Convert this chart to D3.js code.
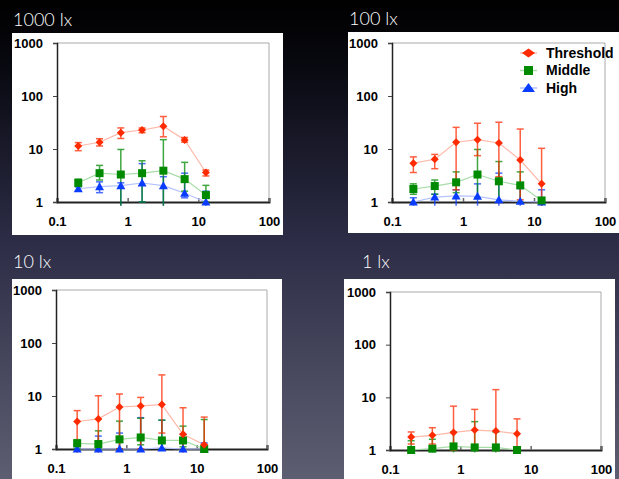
<!DOCTYPE html>
<html><head><meta charset="utf-8">
<script src="https://cdn.jsdelivr.net/npm/d3@7"></script>
<style>
html,body{margin:0;padding:0;background:#000;}
svg{display:block;}
</style></head>
<body>
<script>
// ---- data ----
const xVals = [0.2, 0.4, 0.8, 1.6, 3.2, 6.4, 12.8];
const panelTitles = ["1000 lx", "100 lx", "10 lx", "1 lx"];
const seriesNames = ["Threshold", "Middle", "High"];
const xTickLabels = ["0.1", "1", "10", "100"];
const yTickLabels = ["1", "10", "100", "1000"];

// 1000 lx
const thr1000 = [11.4, 13.4, 20.3, 22.8, 27, 14.8, 3.6];
const thr1000Hi = [13.2, 15.6, 25, 24.9, 41, 16.5, 4.0];
const thr1000Lo = [9.3, 11.4, 15.8, 20.3, 17, 13.5, 3.1];
const mid1000 = [2.3, 3.5, 3.3, 3.5, 3.9, 2.7, 1.35];
const mid1000Hi = [2.7, 4.9, 9.8, 6.0, 15, 5.6, 2.06];
const mid1000Lo = [1.95, 2.6, 0.85, 1.0, 0.85, 1.6, 1.0];
const high1000 = [1.78, 1.95, 2.03, 2.28, 2.03, 1.46, 1.0];
const high1000Hi = [1.95, 2.4, 2.3, 5.3, 3.0, 3.5, 1.6];
const high1000Lo = [1.6, 1.5, 0.85, 1.0, 0.85, 1.2, 0.85];

// 100 lx
const thr100 = [5.4, 6.4, 13.4, 15.0, 13.0, 6.2, 2.2];
const thr100Hi = [7.1, 7.9, 25.6, 30.6, 32, 23.8, 10.3];
const thr100Lo = [3.6, 4.25, 1.7, 7.5, 3.0, 1.1, 0.85];
const mid100 = [1.76, 2.0, 2.35, 3.3, 2.46, 2.06, 1.07];
const mid100Hi = [2.2, 2.6, 3.7, 9.8, 5.8, 3.7, 1.1];
const mid100Lo = [1.4, 1.4, 1.5, 1.2, 1.0, 1.0, 0.85];
const high100 = [1.0, 1.24, 1.3, 1.28, 1.1, 1.03, 1.0];
const high100Hi = [1.2, 1.4, 1.7, 2.2, 3.5, 1.8, 1.7];
const high100Lo = [0.85, 0.85, 0.85, 0.85, 0.85, 0.85, 0.85];

// 10 lx
const thr10 = [3.3, 3.7, 6.2, 6.5, 6.9, 1.9, 1.2];
const thr10Hi = [5.3, 10.1, 10.9, 9.4, 25, 6.0, 4.0];
const thr10Lo = [0.85, 0.85, 1.0, 1.0, 2.0, 0.85, 0.85];
const mid10 = [1.28, 1.24, 1.52, 1.65, 1.45, 1.45, 1.0];
const mid10Hi = [1.5, 2.2, 3.35, 3.8, 3.5, 2.7, 3.6];
const mid10Lo = [1.0, 1.0, 1.0, 1.2, 1.0, 1.1, 0.85];
const high10 = [1, 1, 1, 1, 1.05, 1, 1];
const high10Hi = [1.1, 1.75, 2.0, 3.9, 3.5, 1.9, 1.3];
const high10Lo = [0.95, 0.95, 0.95, 0.95, 0.95, 0.95, 0.95];

// 1 lx
const thr1 = [1.76, 1.9, 2.16, 2.39, 2.29, 2.04];
const thr1Hi = [2.2, 2.65, 6.8, 5.9, 14, 3.9];
const thr1Lo = [1.3, 1.3, 1.0, 1.0, 1.0, 1.1];
const mid1 = [1.0, 1.06, 1.17, 1.12, 1.12, 1.0];
const mid1Hi = [1.5, 1.6, 2.2, 3.45, 2.2, 1.1];
const mid1Lo = [0.9, 0.9, 0.9, 0.9, 0.9, 0.9];

// ---- layout/style ----
const W = 619, H = 479;
const colors = {Threshold: "#ff2a00", Middle: "#008a00", High: "#0a3cff"};
const lineColors = {Threshold: "#ffb8aa", Middle: "#a8dca8", High: "#b4c2ff"};

const panels = [
  {title: panelTitles[0], box: [12, 33, 283, 235], plot: [57, 43, 269, 202], tx: 13, ty: 26,
   series: [["Threshold", thr1000, thr1000Lo, thr1000Hi], ["Middle", mid1000, mid1000Lo, mid1000Hi], ["High", high1000, high1000Lo, high1000Hi]]},
  {title: panelTitles[1], box: [348, 32, 619, 233], plot: [392, 43, 605, 202], tx: 349, ty: 25, legend: true,
   series: [["Threshold", thr100, thr100Lo, thr100Hi], ["Middle", mid100, mid100Lo, mid100Hi], ["High", high100, high100Lo, high100Hi]]},
  {title: panelTitles[2], box: [12, 279, 282, 479], plot: [56, 290, 267, 449], tx: 13, ty: 268,
   series: [["Threshold", thr10, thr10Lo, thr10Hi], ["Middle", mid10, mid10Lo, mid10Hi], ["High", high10, high10Lo, high10Hi]]},
  {title: panelTitles[3], box: [344, 279, 615, 479], plot: [390, 292, 601, 450], tx: 362, ty: 268,
   series: [["Threshold", thr1, thr1Lo, thr1Hi], ["Middle", mid1, mid1Lo, mid1Hi]]}
];

const svg = d3.select("body").append("svg").attr("width", W).attr("height", H);
const defs = svg.append("defs");
const grad = defs.append("linearGradient").attr("id", "bg").attr("x1", 0).attr("y1", 0).attr("x2", 0).attr("y2", 1);
grad.append("stop").attr("offset", "0%").attr("stop-color", "#000000");
grad.append("stop").attr("offset", "12%").attr("stop-color", "#07070e");
grad.append("stop").attr("offset", "50%").attr("stop-color", "#2c2c46");
grad.append("stop").attr("offset", "100%").attr("stop-color", "#5e5e72");
svg.append("rect").attr("width", W).attr("height", H).attr("fill", "url(#bg)");

function marker(sel, name, legend) {
  if (name === "Threshold") {
    const hw = legend ? 6.5 : 4, hh = legend ? 4.5 : 4;
    sel.append("path").attr("d", `M0,${-hh}L${hw},0L0,${hh}L${-hw},0Z`).attr("fill", colors[name]);
  } else if (name === "Middle") {
    const s = legend ? 4.5 : 4;
    sel.append("rect").attr("x", -s).attr("y", -s).attr("width", 2 * s).attr("height", 2 * s).attr("fill", colors[name]);
  } else {
    const hw = legend ? 6.5 : 4.5, h = legend ? 5 : 4.5;
    sel.append("path").attr("d", `M0,${-h}L${hw},${h - 1}L${-hw},${h - 1}Z`).attr("fill", colors[name]);
  }
}

panels.forEach(p => {
  // title
  svg.append("text").attr("x", p.tx).attr("y", p.ty).text(p.title)
    .attr("fill", "#fff").attr("font-family", "Lato, 'Open Sans', sans-serif")
    .attr("font-size", 18).attr("font-weight", 300);
  // white box
  svg.append("rect").attr("x", p.box[0]).attr("y", p.box[1])
    .attr("width", p.box[2] - p.box[0]).attr("height", p.box[3] - p.box[1]).attr("fill", "#fff");

  const [x0, y0, x1, y1] = p.plot;
  const x = d3.scaleLog().domain([0.1, 100]).range([x0, x1]);
  const y = d3.scaleLog().domain([1, 1000]).range([y1, y0]);
  const g = svg.append("g");

  // frame top/right
  g.append("path").attr("d", `M${x0},${y0}H${x1}V${y1}`).attr("fill", "none")
    .attr("stroke", "#aaa").attr("stroke-width", 1);

  // x axis
  const xAx = g.append("g").attr("transform", `translate(0,${y1})`)
    .call(d3.axisBottom(x).tickValues([0.1, 1, 10, 100]).tickFormat((d, i) => xTickLabels[i]).tickSize(-4).tickPadding(15));
  xAx.select(".domain").attr("stroke", "#222").attr("stroke-width", 2);
  xAx.selectAll(".tick line").attr("stroke", "#666").attr("stroke-width", 1.5);
  xAx.selectAll("text").attr("font-family", "'Liberation Sans', Arial, sans-serif")
    .attr("font-size", 13).attr("font-weight", "bold").attr("fill", "#000");

  // y axis
  const yAx = g.append("g").attr("transform", `translate(${x0},0)`)
    .call(d3.axisLeft(y).tickValues([1, 10, 100, 1000]).tickFormat((d, i) => yTickLabels[i]).tickSize(4).tickPadding(10));
  yAx.select(".domain").attr("stroke", "#222").attr("stroke-width", 1.5);
  yAx.selectAll(".tick line").attr("stroke", "#444");
  yAx.selectAll("text").attr("font-family", "'Liberation Sans', Arial, sans-serif")
    .attr("font-size", 13).attr("font-weight", "bold").attr("fill", "#000");

  // series, draw in reverse so threshold on top
  const ser = p.series.slice().reverse();
  ser.forEach(([name, vals]) => {
    const line = d3.line().x((d, i) => x(xVals[i])).y(d => y(d));
    g.append("path").datum(vals).attr("d", line).attr("fill", "none")
      .attr("stroke", lineColors[name]).attr("stroke-width", 1.2);
  });
  ser.forEach(([name, vals, lo, hi]) => {
    const eg = g.append("g").attr("stroke", colors[name]).attr("stroke-width", 1.5).attr("opacity", 0.75);
    vals.forEach((v, i) => {
      const cx = x(xVals[i]);
      eg.append("line").attr("x1", cx).attr("x2", cx).attr("y1", y(hi[i])).attr("y2", y(lo[i]));
      eg.append("line").attr("x1", cx - 3.5).attr("x2", cx + 3.5).attr("y1", y(hi[i])).attr("y2", y(hi[i]));
      if (lo[i] >= 1) eg.append("line").attr("x1", cx - 3.5).attr("x2", cx + 3.5).attr("y1", y(lo[i])).attr("y2", y(lo[i]));
    });
  });
  ser.forEach(([name, vals]) => {
    vals.forEach((v, i) => {
      const mg = g.append("g").attr("transform", `translate(${x(xVals[i])},${y(v)})`);
      marker(mg, name, false);
    });
  });

  if (p.legend) {
    const lx = 520, ly0 = 53, dy = 17.5;
    seriesNames.forEach((name, i) => {
      const ly = ly0 + i * dy;
      g.append("line").attr("x1", lx).attr("x2", lx + 17).attr("y1", ly).attr("y2", ly)
        .attr("stroke", lineColors[name]).attr("stroke-width", 1.5);
      const mg = g.append("g").attr("transform", `translate(${lx + 8.5},${ly})`);
      marker(mg, name, true);
      g.append("text").attr("x", lx + 26).attr("y", ly).attr("dy", "0.35em").text(name)
        .attr("font-family", "'Liberation Sans', Arial, sans-serif").attr("font-size", 14)
        .attr("font-weight", "bold").attr("fill", "#000");
    });
  }
});
</script>
</body></html>
